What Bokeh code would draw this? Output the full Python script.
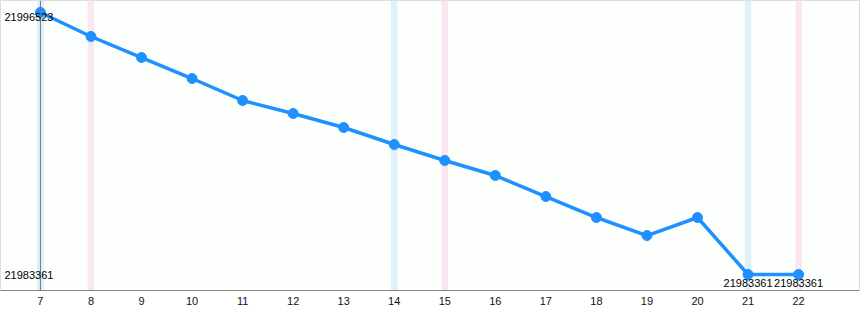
from bokeh.plotting import figure
from bokeh.models import Range1d, Label, Span, ColumnDataSource, FixedTicker
from bokeh.embed import file_html
from bokeh.resources import INLINE

days = [7, 8, 9, 10, 11, 12, 13, 14, 15, 16, 17, 18, 19, 20, 21, 22]
values = [21996523, 21995317, 21994262, 21993207, 21992102, 21991449, 21990745,
          21989891, 21989087, 21988334, 21987279, 21986224, 21985319, 21986224,
          21983361, 21983361]
saturdays = [7, 14, 21]
sundays = [8, 15, 22]
end_labels_days = [21, 22]

vmax, vmin = max(values), min(values)
span_v = vmax - vmin

p = figure(width=860, height=320, output_backend="svg", toolbar_location=None,
           x_range=Range1d(6.21, 23.205),
           y_range=Range1d(vmin - span_v * 0.061, vmax + span_v * 0.0458),
           min_border_left=0, min_border_right=1, min_border_top=0, min_border_bottom=30)
p.background_fill_color = "#fdfffd"
p.border_fill_color = "#ffffff"
p.outline_line_color = "#dddddd"
p.grid.visible = False
p.yaxis.visible = False

ax = p.xaxis[0]
ax.ticker = FixedTicker(ticks=days)
ax.major_tick_line_color = None
ax.minor_tick_line_color = None
ax.axis_line_color = "#888888"
ax.major_label_text_font = "Liberation Sans"
ax.major_label_text_font_size = "11px"
ax.major_label_text_color = "#111111"
ax.major_label_standoff = 0

top = vmax + span_v
bot = vmin - span_v
p.vbar(x=saturdays, width=0.13, top=top, bottom=bot, color="#dff0fa", line_color=None)
p.vbar(x=sundays, width=0.13, top=top, bottom=bot, color="#fce6f1", line_color=None)
p.add_layout(Span(location=days[0], dimension="height", line_color="#6a7c88", line_width=1))

src = ColumnDataSource(dict(x=days, y=values))
p.line("x", "y", source=src, line_color="#1e90ff", line_width=3.5)
p.scatter("x", "y", source=src, size=10, color="#1e90ff")

for v in (vmax, vmin):
    p.add_layout(Label(x=4, y=v, x_units="screen", text=str(v), text_font="Liberation Sans",
                       text_font_size="11px", text_color="#000000", text_baseline="middle",
                       y_offset=-4 if v == vmax else 0))

for d in end_labels_days:
    v = values[days.index(d)]
    p.add_layout(Label(x=d, y=v, text=str(v), text_font="Liberation Sans",
                       text_font_size="11px", text_color="#000000", text_align="center",
                       text_baseline="top", y_offset=-4))

open("out.html", "w").write(file_html(p, INLINE))
